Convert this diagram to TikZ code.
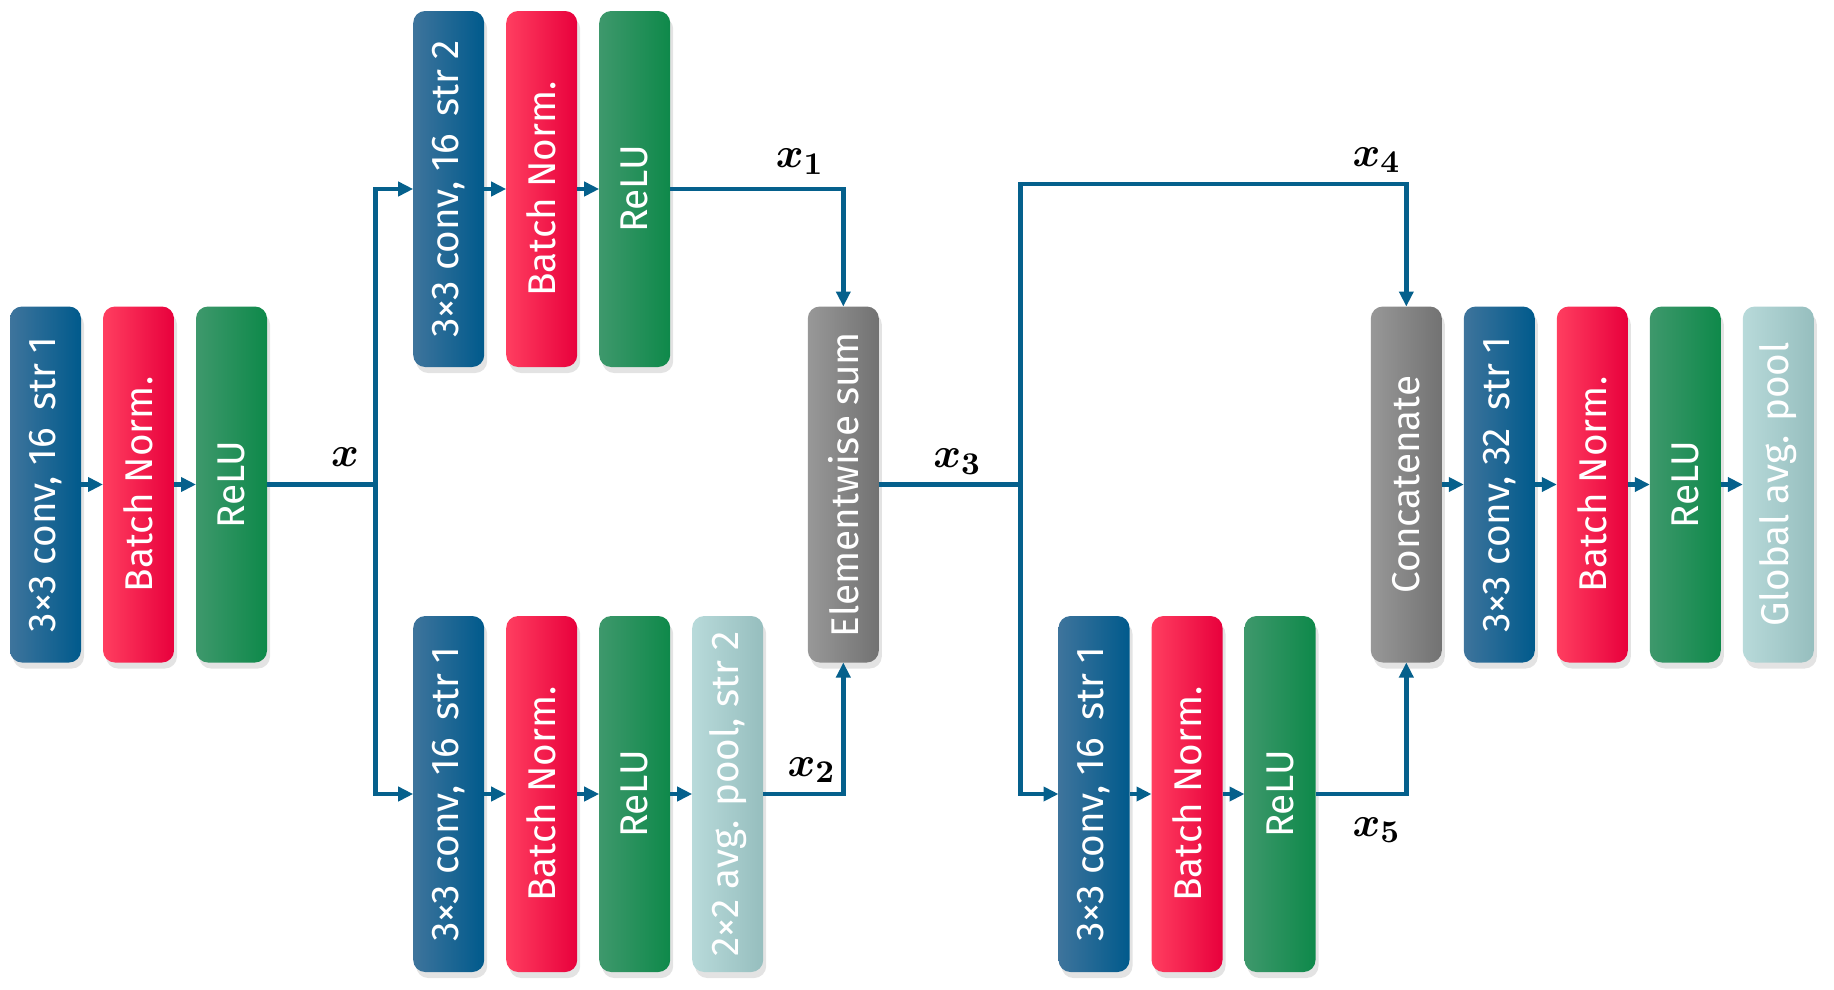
\documentclass[tikz,border=0pt]{standalone}
\usepackage{fontspec}
\usepackage{bm}
\usepackage{graphicx}
\usetikzlibrary{shadows, arrows.meta, positioning}
\newfontfamily\boxfont{Fira Sans}
\definecolor{conv_left}{RGB}{62, 116, 156}
\definecolor{conv_right}{RGB}{0, 90, 140}
\definecolor{bn_left}{RGB}{255, 62, 96}
\definecolor{bn_right}{RGB}{232, 0, 60}
\definecolor{relu_left}{RGB}{62, 152, 108}
\definecolor{relu_right}{RGB}{14, 137, 74}
\definecolor{pool_left}{RGB}{184, 218, 218}
\definecolor{pool_right}{RGB}{150, 190, 190}
\definecolor{merge_left}{RGB}{152, 152, 152}
\definecolor{merge_right}{RGB}{114, 114, 114}
\definecolor{my_flow}{RGB}{5, 96, 140}
\newcommand{\gap}{\hspace{0.45em}}
\tikzset {
  block/.style = {rectangle, rounded corners=1.2mm, minimum width=0.71cm, minimum height=3.56cm, inner sep=0pt, outer sep=0pt, text=white, font=\boxfont\fontsize{11}{13}\selectfont, drop shadow={shadow xshift=0.3mm, shadow yshift=-0.6mm, opacity=0.22}},
  conv/.style = {block, left color=conv_left, right color=conv_right},
  bn/.style = {block, left color=bn_left, right color=bn_right},
  relu/.style = {block, left color=relu_left, right color=relu_right},
  pool/.style = {block, left color=pool_left, right color=pool_right},
  merge/.style = {block, left color=merge_left, right color=merge_right},
  link/.style = {color=my_flow, line width=1.4pt},
  line/.style = {link, -{Triangle[length=1.5mm, width=1.4mm]}},
  lbl/.style = {font=\fontsize{13}{15}\selectfont, inner sep=1pt}
}

\begin{document}
\begin{tikzpicture}[node distance=0.22cm]
    \useasboundingbox (0,0) rectangle (18.34,9.89);

    % stem
    \node[conv] (conv1) at (0.455,5.045) {\rotatebox{90}{3×3 conv, 16\gap str 1}};
    \node[bn, right=of conv1] (bn1) {\rotatebox{90}{Batch Norm.}};
    \node[relu, right=of bn1] (relu1) {\rotatebox{90}{ReLU}};

    % upper branch
    \node[conv] (convt) at (4.487,8.0) {\rotatebox{90}{3×3 conv, 16\gap str 2}};
    \node[bn, right=of convt] (bnt) {\rotatebox{90}{Batch Norm.}};
    \node[relu, right=of bnt] (relut) {\rotatebox{90}{ReLU}};

    % lower branch
    \node[conv] (convb) at (4.487,1.95) {\rotatebox{90}{3×3 conv, 16\gap str 1}};
    \node[bn, right=of convb] (bnb) {\rotatebox{90}{Batch Norm.}};
    \node[relu, right=of bnb] (relub) {\rotatebox{90}{ReLU}};
    \node[pool, right=of relub] (poolb) {\rotatebox{90}{2×2 avg. pool, str 2}};

    \node[merge] (esum) at (8.433,5.045) {\rotatebox{90}{Elementwise sum}};

    % second lower branch
    \node[conv] (convc) at (10.94,1.95) {\rotatebox{90}{3×3 conv, 16\gap str 1}};
    \node[bn, right=of convc] (bnc) {\rotatebox{90}{Batch Norm.}};
    \node[relu, right=of bnc] (reluc) {\rotatebox{90}{ReLU}};

    % head
    \node[merge] (concat) at (14.063,5.045) {\rotatebox{90}{Concatenate}};
    \node[conv, right=of concat] (convh) {\rotatebox{90}{3×3 conv, 32\gap str 1}};
    \node[bn, right=of convh] (bnh) {\rotatebox{90}{Batch Norm.}};
    \node[relu, right=of bnh] (reluh) {\rotatebox{90}{ReLU}};
    \node[pool, right=of reluh] (poolh) {\rotatebox{90}{Global avg. pool}};

    \coordinate (split1) at (3.758,5.045);
    \coordinate (split2) at (10.205,5.045);
    \coordinate (skip) at (10.205,8.05);

    \draw[line] (conv1) -- (bn1);
    \draw[line] (bn1) -- (relu1);
    \draw[link] (relu1.east) -- (split1);
    \draw[line] (split1) |- (convt.west);
    \draw[line] (split1) |- (convb.west);

    \draw[line] (convt) -- (bnt);
    \draw[line] (bnt) -- (relut);
    \draw[line] (convb) -- (bnb);
    \draw[line] (bnb) -- (relub);
    \draw[line] (relub) -- (poolb);
    \draw[line] (relut.east) -| (esum.north);
    \draw[line] (poolb.east) -| (esum.south);

    \draw[link] (esum.east) -- (split2);
    \draw[line] (split2) |- (convc.west);
    \draw[line] (split2) -- (skip) -| (concat.north);
    \draw[line] (convc) -- (bnc);
    \draw[line] (bnc) -- (reluc);
    \draw[line] (reluc.east) -| (concat.south);

    \draw[line] (concat) -- (convh);
    \draw[line] (convh) -- (bnh);
    \draw[line] (bnh) -- (reluh);
    \draw[line] (reluh) -- (poolh);

    \node[lbl] (lx) at (3.45,5.315) {$\bm{x}$};
    \node[lbl] (lx1) at (8.0,8.273) {$\bm{x}_{\bm{1}}$};
    \node[lbl] (lx2) at (8.117,2.19) {$\bm{x}_{\bm{2}}$};
    \node[lbl] (lx3) at (9.575,5.273) {$\bm{x}_{\bm{3}}$};
    \node[lbl] (lx4) at (13.767,8.29) {$\bm{x}_{\bm{4}}$};
    \node[lbl] (lx5) at (13.767,1.59) {$\bm{x}_{\bm{5}}$};

\end{tikzpicture}
\end{document}
